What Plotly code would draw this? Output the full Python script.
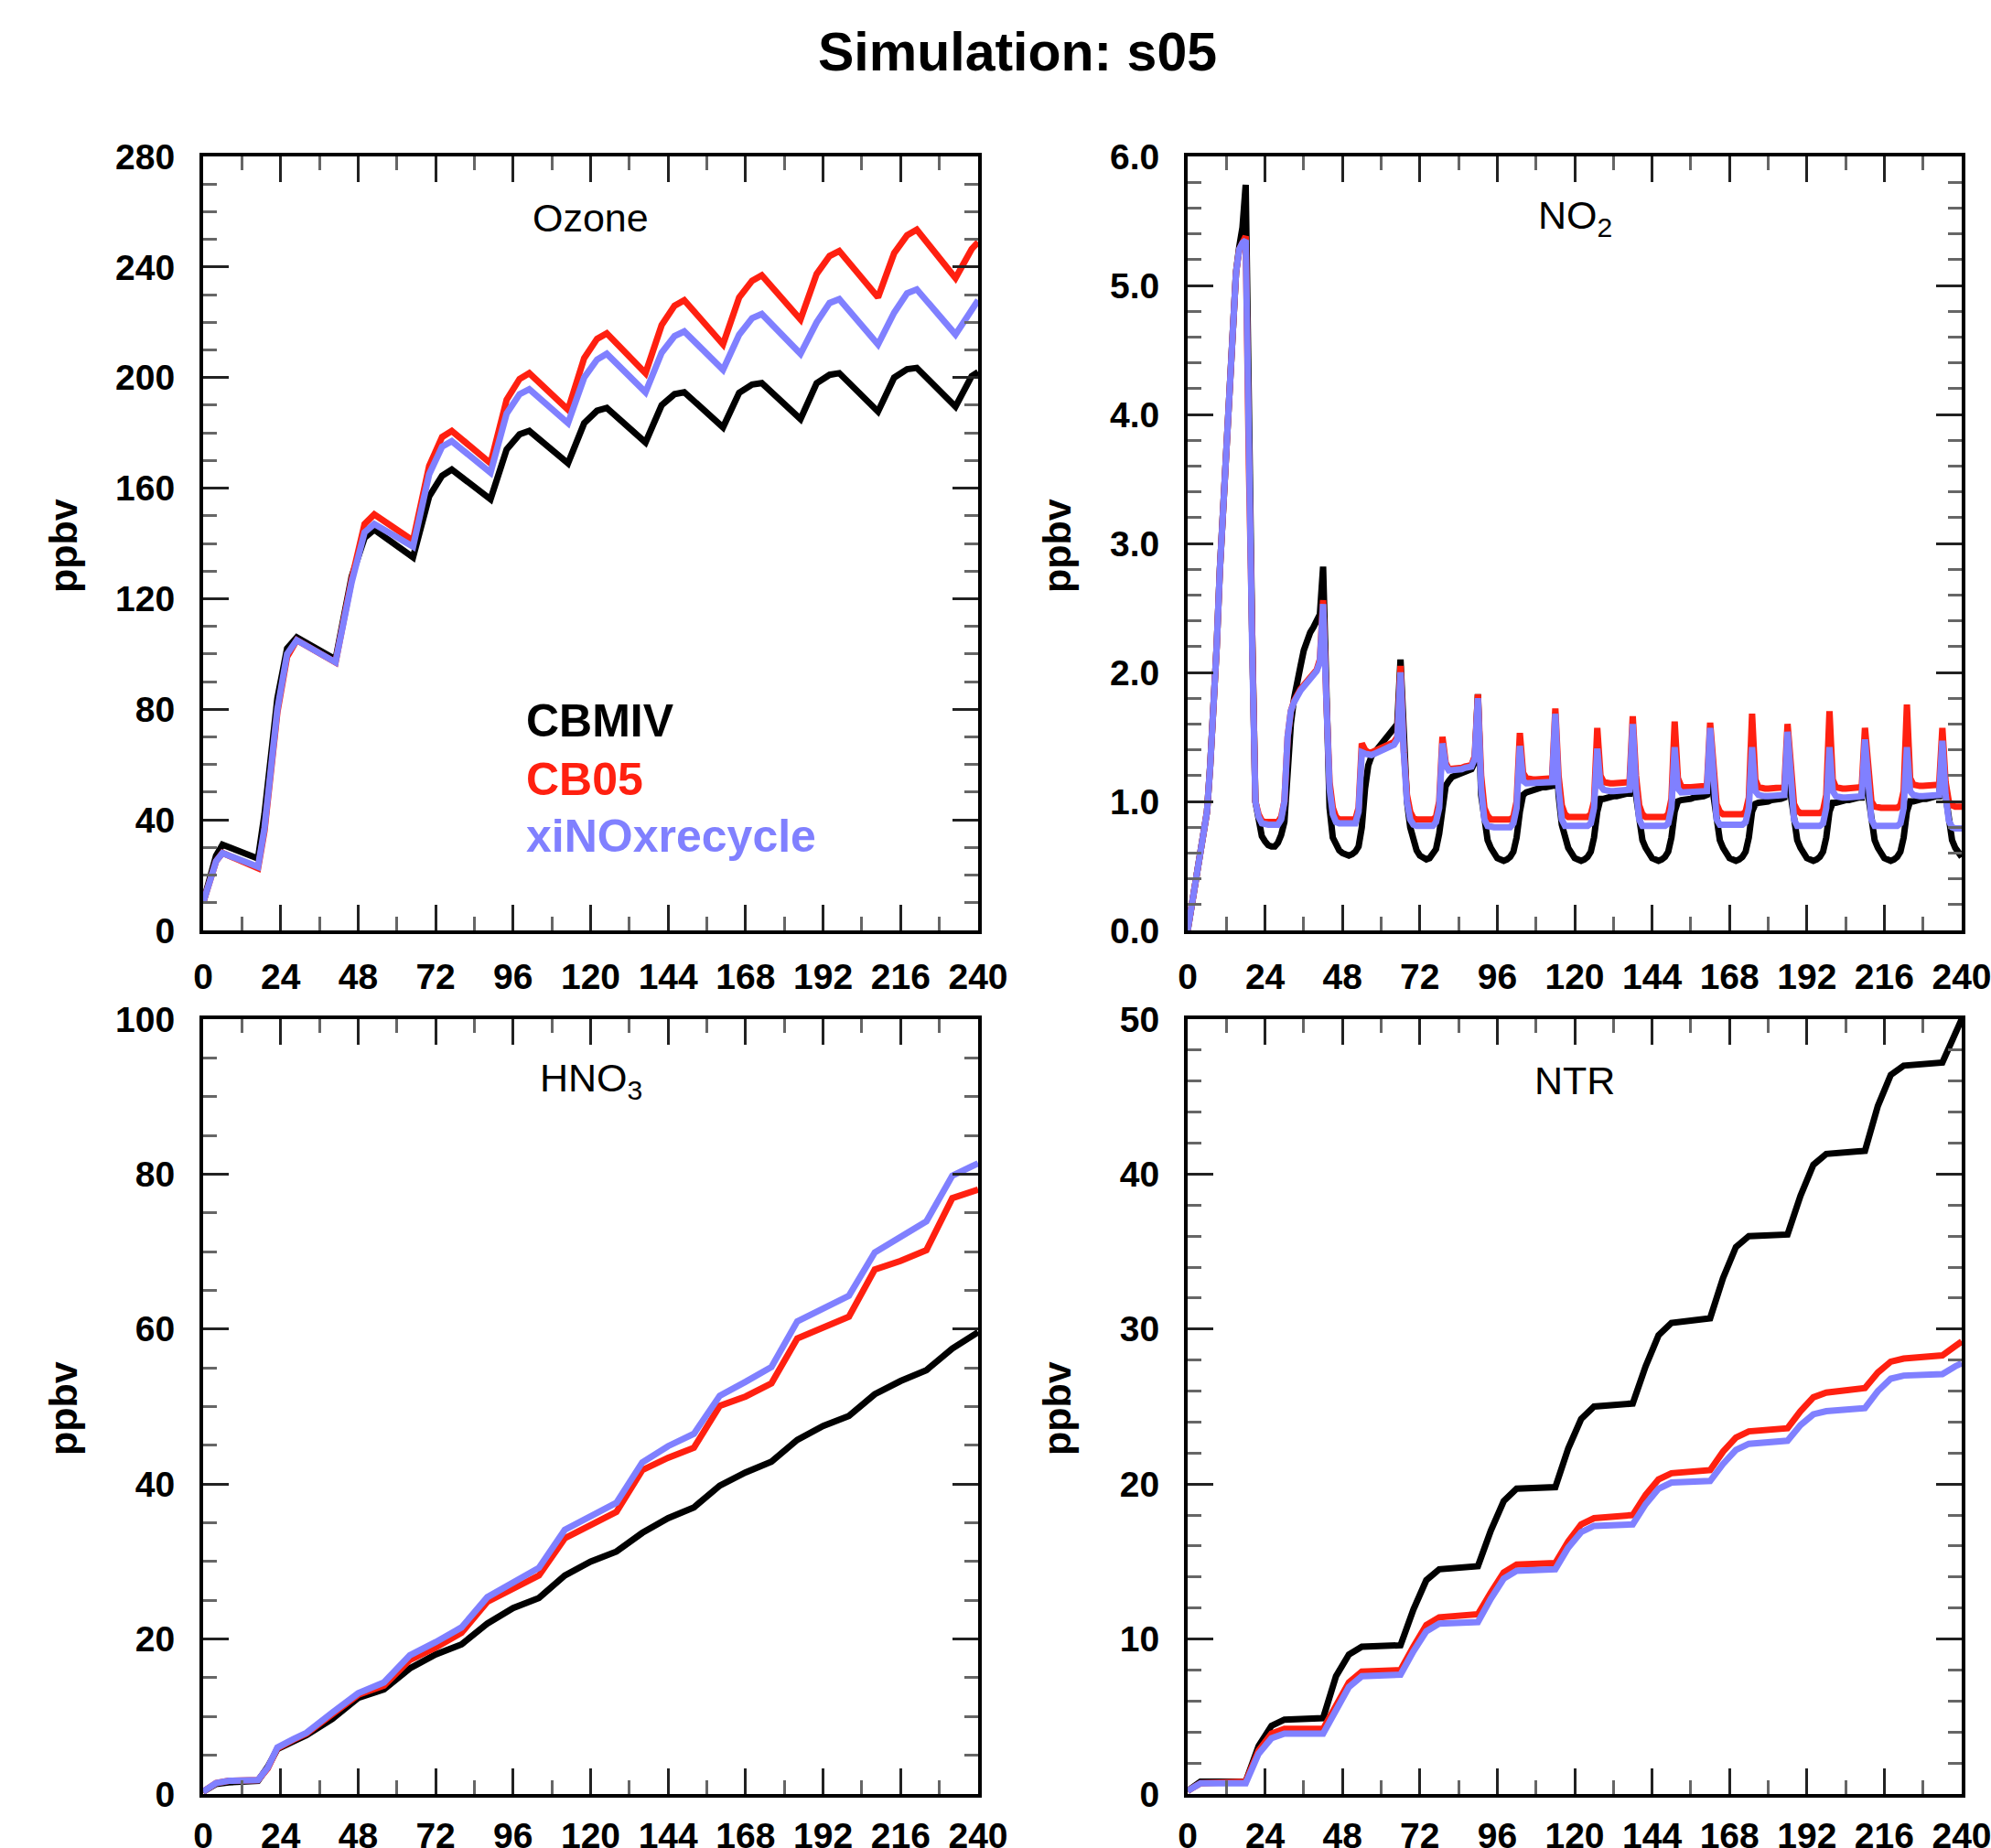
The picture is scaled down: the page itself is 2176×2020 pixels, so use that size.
import plotly.graph_objects as go

# ---------------- data ----------------
SERIES = ["CBMIV", "CB05", "xiNOxrecycle"]
COLORS = ["#000000", "#ff2010", "#8080ff"]

# Ozone (ppbv)
O3_HOURS = [0, 2, 4, 6, 17, 19, 21, 23, 26, 29,
            41, 46, 50, 53, 65, 70, 74, 77, 89, 94, 98, 101,
            113, 118, 122, 125, 137, 142, 146, 149, 161, 166, 170, 173,
            185, 190, 194, 197, 209, 214, 218, 221, 233, 238, 240]
O3_CBMIV = [10, 19, 27, 31, 26, 42, 62, 84, 102, 106,
            98, 128, 142, 145, 135, 157, 164.5, 166.7, 156, 174, 179.5, 180.7,
            169, 183.5, 188, 189, 176.5, 190, 194, 194.7, 182, 194.5, 197.5, 198,
            185, 198, 201, 201.6, 187.7, 200, 203, 203.5, 189.5, 200.5, 202]
O3_CB05 = [10, 18, 25, 28, 22.5, 36, 57, 79, 99, 105,
           97, 127, 147, 150.5, 141, 168, 178.5, 180.7, 169, 192, 199.5, 201.6,
           188.4, 207, 214, 216, 201.6, 219, 226, 228, 212, 229, 235, 237,
           221, 237.5, 244, 245.8, 229, 245, 251.5, 253.5, 236, 246.5, 249]
O3_XINOX = [10, 18, 25, 28, 23, 37, 58, 80, 100, 105,
            97, 126, 144, 147, 138.8, 165, 175, 177, 165.6, 187, 194, 195.8,
            183.5, 200, 206.5, 208.6, 194.7, 209, 215, 216.7, 202.8, 215.5, 221.5, 223,
            208.6, 220, 227, 228.4, 212, 223.5, 230.5, 231.9, 215.6, 225, 228]

# NO2 (ppbv), hourly values 0..240
NO2_HOURS = list(range(0, 241))
NO2_CBMIV = [
    0.00, 0.15, 0.30, 0.45, 0.60, 0.75, 0.92, 1.28, 1.70, 2.20, 2.80, 3.30,
    3.75, 4.15, 4.70, 5.10, 5.30, 5.45, 5.78, 3.70, 2.30, 1.00, 0.82, 0.73,
    0.69, 0.66, 0.65, 0.65, 0.68, 0.74, 0.84, 1.25, 1.60, 1.80, 1.90, 2.05,
    2.17, 2.25, 2.31, 2.35, 2.40, 2.45, 2.82, 1.85, 0.95, 0.72, 0.66, 0.62,
    0.60, 0.59, 0.58, 0.59, 0.61, 0.65, 0.80, 1.10, 1.28, 1.35, 1.38, 1.41,
    1.44, 1.47, 1.50, 1.53, 1.56, 1.60, 2.10, 1.40, 1.00, 0.80, 0.68, 0.62,
    0.58, 0.56, 0.55, 0.56, 0.59, 0.63, 0.75, 0.95, 1.12, 1.16, 1.19, 1.20,
    1.21, 1.22, 1.23, 1.24, 1.25, 1.30, 1.83, 1.05, 0.82, 0.70, 0.64, 0.60,
    0.56, 0.55, 0.54, 0.55, 0.57, 0.61, 0.72, 0.92, 1.05, 1.07, 1.08, 1.09,
    1.10, 1.10, 1.11, 1.11, 1.12, 1.12, 1.60, 1.05, 0.82, 0.70, 0.64, 0.60,
    0.56, 0.55, 0.54, 0.55, 0.57, 0.61, 0.72, 0.92, 1.02, 1.02, 1.03, 1.03,
    1.04, 1.04, 1.05, 1.05, 1.06, 1.06, 1.55, 1.05, 0.82, 0.70, 0.64, 0.60,
    0.56, 0.55, 0.54, 0.55, 0.57, 0.61, 0.72, 0.92, 1.00, 1.01, 1.01, 1.02,
    1.02, 1.03, 1.03, 1.04, 1.04, 1.05, 1.50, 1.05, 0.82, 0.70, 0.64, 0.60,
    0.56, 0.55, 0.54, 0.55, 0.57, 0.61, 0.72, 0.92, 0.98, 0.99, 0.99, 1.00,
    1.00, 1.01, 1.01, 1.02, 1.02, 1.03, 1.50, 1.05, 0.82, 0.70, 0.64, 0.60,
    0.56, 0.55, 0.54, 0.55, 0.57, 0.61, 0.72, 0.92, 0.99, 0.99, 1.00, 1.00,
    1.01, 1.01, 1.02, 1.02, 1.03, 1.03, 1.45, 1.05, 0.82, 0.70, 0.64, 0.60,
    0.56, 0.55, 0.54, 0.55, 0.57, 0.61, 0.72, 0.92, 1.00, 1.00, 1.01, 1.01,
    1.02, 1.02, 1.03, 1.03, 1.04, 1.04, 1.45, 1.05, 0.82, 0.70, 0.64, 0.60,
    0.57]
NO2_CB05 = [
    0.00, 0.15, 0.30, 0.45, 0.60, 0.75, 0.92, 1.28, 1.70, 2.20, 2.80, 3.30,
    3.75, 4.15, 4.70, 5.10, 5.28, 5.34, 5.38, 3.60, 2.20, 1.00, 0.90, 0.85,
    0.84, 0.84, 0.84, 0.84, 0.84, 0.88, 1.00, 1.50, 1.70, 1.78, 1.83, 1.87,
    1.90, 1.93, 1.95, 1.99, 2.02, 2.10, 2.56, 1.80, 1.15, 0.95, 0.88, 0.86,
    0.86, 0.86, 0.86, 0.86, 0.86, 0.95, 1.45, 1.40, 1.38, 1.38, 1.39, 1.40,
    1.41, 1.42, 1.43, 1.44, 1.46, 1.50, 2.05, 1.40, 1.05, 0.92, 0.87, 0.86,
    0.86, 0.86, 0.86, 0.86, 0.86, 0.88, 1.00, 1.50, 1.30, 1.25, 1.25, 1.25,
    1.26, 1.26, 1.27, 1.27, 1.28, 1.35, 1.83, 1.20, 0.95, 0.89, 0.86, 0.86,
    0.86, 0.86, 0.86, 0.86, 0.86, 0.88, 1.00, 1.53, 1.22, 1.18, 1.17, 1.17,
    1.17, 1.17, 1.17, 1.17, 1.17, 1.18, 1.72, 1.20, 0.97, 0.90, 0.88, 0.88,
    0.88, 0.88, 0.88, 0.88, 0.88, 0.90, 1.00, 1.57, 1.20, 1.15, 1.14, 1.14,
    1.14, 1.14, 1.14, 1.14, 1.14, 1.15, 1.66, 1.20, 0.97, 0.90, 0.88, 0.88,
    0.88, 0.88, 0.88, 0.88, 0.88, 0.90, 1.02, 1.62, 1.18, 1.12, 1.11, 1.11,
    1.11, 1.11, 1.11, 1.11, 1.11, 1.12, 1.61, 1.20, 0.98, 0.92, 0.90, 0.90,
    0.90, 0.90, 0.90, 0.90, 0.90, 0.92, 1.03, 1.68, 1.17, 1.11, 1.10, 1.10,
    1.10, 1.10, 1.10, 1.10, 1.10, 1.11, 1.60, 1.20, 0.98, 0.93, 0.91, 0.91,
    0.91, 0.91, 0.91, 0.91, 0.91, 0.93, 1.05, 1.70, 1.17, 1.11, 1.10, 1.10,
    1.10, 1.10, 1.10, 1.10, 1.10, 1.11, 1.57, 1.20, 1.00, 0.96, 0.95, 0.95,
    0.95, 0.95, 0.95, 0.95, 0.95, 0.97, 1.08, 1.75, 1.18, 1.13, 1.12, 1.12,
    1.12, 1.12, 1.12, 1.12, 1.12, 1.13, 1.57, 1.15, 1.00, 0.97, 0.96, 0.96,
    0.96]
NO2_XINOX = [
    0.00, 0.15, 0.30, 0.45, 0.60, 0.75, 0.92, 1.28, 1.70, 2.20, 2.80, 3.30,
    3.75, 4.15, 4.70, 5.10, 5.28, 5.33, 5.35, 3.60, 2.20, 1.00, 0.88, 0.83,
    0.82, 0.82, 0.82, 0.82, 0.82, 0.86, 1.00, 1.50, 1.70, 1.77, 1.82, 1.86,
    1.89, 1.92, 1.94, 1.98, 2.01, 2.08, 2.53, 1.80, 1.10, 0.90, 0.84, 0.83,
    0.83, 0.83, 0.83, 0.83, 0.83, 0.92, 1.38, 1.37, 1.36, 1.36, 1.37, 1.38,
    1.39, 1.40, 1.41, 1.42, 1.44, 1.48, 2.00, 1.38, 1.00, 0.86, 0.82, 0.81,
    0.81, 0.81, 0.81, 0.81, 0.81, 0.84, 0.95, 1.45, 1.28, 1.24, 1.24, 1.24,
    1.25, 1.25, 1.26, 1.26, 1.27, 1.33, 1.80, 1.10, 0.86, 0.81, 0.80, 0.80,
    0.80, 0.80, 0.80, 0.80, 0.80, 0.83, 0.95, 1.43, 1.16, 1.14, 1.14, 1.14,
    1.14, 1.14, 1.14, 1.14, 1.14, 1.15, 1.68, 1.10, 0.86, 0.81, 0.81, 0.81,
    0.81, 0.81, 0.81, 0.81, 0.81, 0.83, 0.95, 1.41, 1.12, 1.09, 1.08, 1.08,
    1.08, 1.08, 1.08, 1.08, 1.08, 1.09, 1.60, 1.10, 0.86, 0.81, 0.81, 0.81,
    0.81, 0.81, 0.81, 0.81, 0.81, 0.83, 0.95, 1.42, 1.10, 1.07, 1.07, 1.07,
    1.07, 1.07, 1.07, 1.07, 1.07, 1.08, 1.57, 1.10, 0.86, 0.82, 0.82, 0.82,
    0.82, 0.82, 0.82, 0.82, 0.82, 0.84, 0.95, 1.42, 1.08, 1.05, 1.04, 1.04,
    1.04, 1.04, 1.04, 1.04, 1.04, 1.05, 1.54, 1.10, 0.86, 0.81, 0.81, 0.81,
    0.81, 0.81, 0.81, 0.81, 0.81, 0.83, 0.95, 1.42, 1.08, 1.04, 1.03, 1.03,
    1.03, 1.03, 1.03, 1.03, 1.03, 1.04, 1.48, 1.08, 0.86, 0.81, 0.81, 0.81,
    0.81, 0.81, 0.81, 0.81, 0.81, 0.83, 0.95, 1.42, 1.08, 1.05, 1.04, 1.04,
    1.04, 1.04, 1.04, 1.04, 1.04, 1.05, 1.47, 1.05, 0.85, 0.80, 0.79, 0.79,
    0.79]

# HNO3 (ppbv)
HNO3_HOURS = [0, 4, 8, 12, 17, 20, 23, 28, 32, 40, 48, 56, 64, 72, 80, 88, 96,
              104, 112, 120, 128, 136, 144, 152, 160, 168, 176, 184, 192, 200,
              208, 216, 224, 232, 240]
HNO3_CBMIV = [0.3, 1.3, 1.5, 1.5, 1.7, 3.5, 5.8, 6.8, 7.6, 9.7, 12.4, 13.5, 16.2,
              18.0, 19.3, 22.0, 24.0, 25.3, 28.2, 30.0, 31.3, 33.7, 35.6, 37.0,
              39.8, 41.5, 42.9, 45.7, 47.5, 48.8, 51.6, 53.3, 54.7, 57.5, 59.6]
HNO3_CB05 = [0.3, 1.4, 1.7, 1.7, 1.8, 3.3, 5.9, 7.0, 7.8, 10.3, 12.8, 14.0, 17.3,
             18.9, 20.8, 24.8, 26.5, 28.2, 33.0, 34.8, 36.4, 41.8, 43.4, 44.7,
             50.1, 51.3, 53.0, 58.8, 60.2, 61.6, 67.7, 68.8, 70.2, 76.9, 78.0]
HNO3_XINOX = [0.3, 1.4, 1.7, 1.7, 1.8, 3.4, 6.0, 7.1, 7.9, 10.5, 13.0, 14.4, 17.9,
              19.6, 21.5, 25.4, 27.4, 29.2, 34.1, 35.9, 37.6, 42.8, 44.9, 46.5,
              51.4, 53.2, 55.1, 61.0, 62.6, 64.3, 69.9, 71.8, 73.9, 79.8, 81.4]

# NTR (ppbv)
NTR_HOURS = [0, 4, 18, 22, 26, 30, 42, 46, 50, 54, 66, 70, 74, 78, 90, 94, 98, 102,
             114, 118, 122, 126, 138, 142, 146, 150, 162, 166, 170, 174,
             186, 190, 194, 198, 210, 214, 218, 222, 234, 238, 240]
NTR_CBMIV = [0.2, 0.8, 0.8, 3.1, 4.4, 4.8, 4.9, 7.6, 9.0, 9.5, 9.6, 11.9, 13.8, 14.5,
             14.7, 17.0, 18.9, 19.7, 19.8, 22.3, 24.2, 25.0, 25.2, 27.6, 29.6, 30.4,
             30.7, 33.3, 35.3, 36.0, 36.1, 38.6, 40.6, 41.3, 41.5, 44.4, 46.4, 47.0,
             47.2, 49.0, 50.0]
NTR_CB05 = [0.2, 0.7, 0.8, 2.8, 3.9, 4.2, 4.2, 5.8, 7.2, 7.9, 8.0, 9.5, 10.9, 11.4,
            11.6, 13.0, 14.3, 14.8, 14.9, 16.3, 17.4, 17.8, 18.0, 19.3, 20.3, 20.7,
            20.9, 22.1, 23.0, 23.4, 23.6, 24.7, 25.6, 25.9, 26.2, 27.2, 27.9, 28.1,
            28.3, 28.9, 29.2]
NTR_XINOX = [0.2, 0.7, 0.7, 2.6, 3.6, 3.9, 3.9, 5.5, 6.9, 7.6, 7.7, 9.2, 10.5, 11.0,
             11.1, 12.6, 13.9, 14.4, 14.5, 15.9, 16.9, 17.3, 17.4, 18.7, 19.7, 20.1,
             20.2, 21.3, 22.2, 22.6, 22.8, 23.8, 24.5, 24.7, 24.9, 26.0, 26.8, 27.0,
             27.1, 27.6, 27.8]

X_TICKS = [0, 24, 48, 72, 96, 120, 144, 168, 192, 216, 240]
PANEL_TITLES = ["Ozone", "NO<sub>2</sub>", "HNO<sub>3</sub>", "NTR"]
Y_UNITS = "ppbv"
TITLE = "Simulation: s05"

# ---------------- figure ----------------
W, H = 2176, 2020
FONT = "Liberation Sans, Arial, Helvetica, sans-serif"

panels = [
    ("x", "y", O3_HOURS, [O3_CBMIV, O3_CB05, O3_XINOX]),
    ("x2", "y2", NO2_HOURS, [NO2_CBMIV, NO2_CB05, NO2_XINOX]),
    ("x3", "y3", HNO3_HOURS, [HNO3_CBMIV, HNO3_CB05, HNO3_XINOX]),
    ("x4", "y4", NTR_HOURS, [NTR_CBMIV, NTR_CB05, NTR_XINOX]),
]

fig = go.Figure()
for xa, ya, hours, vals in panels:
    for name, color, v in zip(SERIES, COLORS, vals):
        fig.add_trace(go.Scatter(x=hours, y=v, mode="lines", name=name,
                                 line=dict(color=color, width=7),
                                 xaxis=xa, yaxis=ya, showlegend=False,
                                 hoverinfo="skip"))

# panel boxes in pixels (left, right, top, bottom)
XL = (222, 1069)
XR = (1298, 2144)
YT = (171, 1017)
YB = (1114, 1961)


def xdom(px):
    return [px[0] / W, px[1] / W]


def ydom(py):
    return [1 - py[1] / H, 1 - py[0] / H]


tickfont = dict(family=FONT, size=39, color="black", weight="bold")


def xaxis(dom, anchor, standoff):
    return dict(domain=xdom(dom), anchor=anchor, range=[0, 240], automargin=False,
                tickmode="array", tickvals=X_TICKS,
                ticktext=[str(t) for t in X_TICKS],
                ticks="inside", ticklen=28, tickwidth=3, tickcolor="#222",
                showline=True, linewidth=4, linecolor="black", mirror="allticks",
                showgrid=False, zeroline=False, tickfont=tickfont,
                ticklabelstandoff=standoff, ticklabeloverflow="allow",
                minor=dict(ticks="inside", dtick=12, tick0=0, ticklen=15,
                           tickwidth=3, tickcolor="#666", showgrid=False))


def yaxis(dom, anchor, rng, dtick, mdtick, fmt=None):
    d = dict(domain=ydom(dom), anchor=anchor, range=rng, automargin=False,
             tickmode="linear", tick0=0, dtick=dtick,
             ticks="inside", ticklen=28, tickwidth=3, tickcolor="#222",
             showline=True, linewidth=4, linecolor="black", mirror="allticks",
             showgrid=False, zeroline=False, tickfont=tickfont,
             ticklabelstandoff=19, ticklabeloverflow="allow",
             minor=dict(ticks="inside", dtick=mdtick, tick0=0, ticklen=15,
                        tickwidth=3, tickcolor="#666", showgrid=False))
    if fmt:
        d["tickformat"] = fmt
    return d


fig.update_layout(
    width=W, height=H, autosize=False,
    margin=dict(l=0, r=0, t=0, b=0, pad=0, autoexpand=False),
    paper_bgcolor="white", plot_bgcolor="white",
    showlegend=False,
    xaxis=xaxis(XL, "y", 13), yaxis=yaxis(YT, "x", [0, 280], 40, 10),
    xaxis2=xaxis(XR, "y2", 13), yaxis2=yaxis(YT, "x2", [0, 6], 1, 0.2, ".1f"),
    xaxis3=xaxis(XL, "y3", 8), yaxis3=yaxis(YB, "x3", [0, 100], 20, 5),
    xaxis4=xaxis(XR, "y4", 8), yaxis4=yaxis(YB, "x4", [0, 50], 10, 2),
)

ann = []
# main title
ann.append(dict(text="<b>" + TITLE + "</b>", x=1112 / W, y=1 - 57 / H,
                xref="paper", yref="paper", xanchor="center", yanchor="middle",
                showarrow=False, font=dict(family=FONT, size=59, color="black")))
# panel titles
centers = [((XL[0] + XL[1]) / 2, 238), ((XR[0] + XR[1]) / 2, 238),
           ((XL[0] + XL[1]) / 2, 1181), ((XR[0] + XR[1]) / 2, 1181)]
for t, (cx, cy) in zip(PANEL_TITLES, centers):
    ann.append(dict(text=t, x=cx / W, y=1 - cy / H, xref="paper", yref="paper",
                    xanchor="center", yanchor="middle", showarrow=False,
                    font=dict(family=FONT, size=43, color="black")))
# y axis titles
for cx, cy in [(69, 597), (1155, 597), (69, 1540), (1155, 1540)]:
    ann.append(dict(text="<b>" + Y_UNITS + "</b>", x=cx / W, y=1 - cy / H,
                    xref="paper", yref="paper", xanchor="center", yanchor="middle",
                    textangle=-90, showarrow=False,
                    font=dict(family=FONT, size=43, color="black")))
# legend text
for name, color, cy in zip(SERIES, COLORS, [788, 852, 914]):
    ann.append(dict(text="<b>" + name + "</b>", x=573 / W, y=1 - cy / H,
                    xref="paper", yref="paper", xanchor="left", yanchor="middle",
                    showarrow=False, font=dict(family=FONT, size=50, color=color)))
fig.update_layout(annotations=ann)

fig.write_html("out.html", config={"displayModeBar": False},
               post_script="document.body.style.margin='0';document.body.style.overflow='hidden';")
